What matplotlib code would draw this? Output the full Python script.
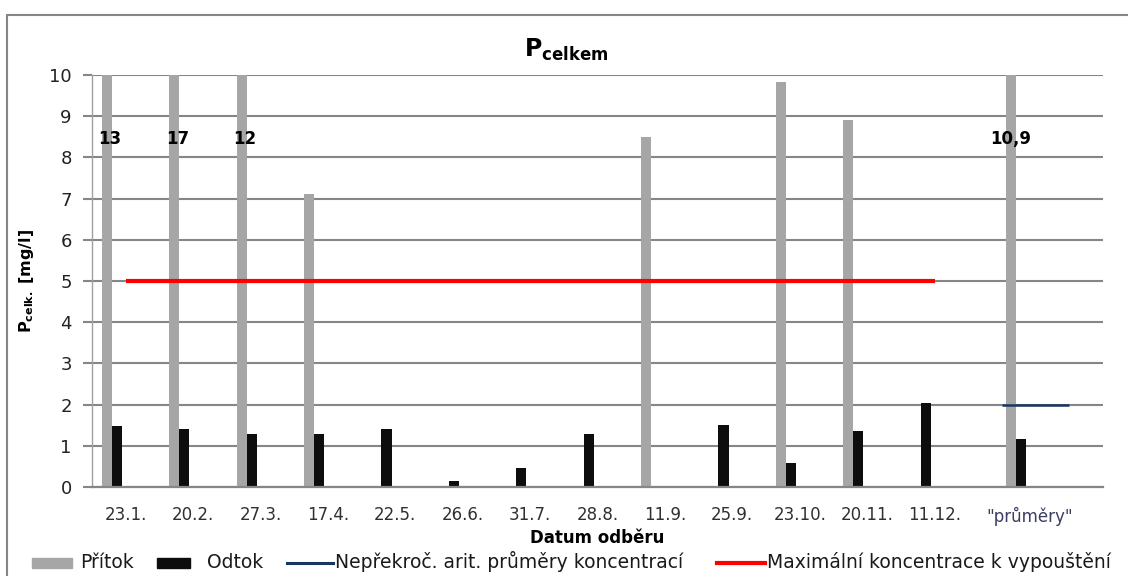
import matplotlib
matplotlib.use("Agg")
import numpy as np
import matplotlib.pyplot as plt
from matplotlib.patches import Rectangle
from matplotlib.lines import Line2D

plt.rcParams['font.family'] = ['DejaVu Sans']
plt.rcParams['mathtext.fontset'] = 'dejavusans'

# sampling dates + the summary column
dates = ['23.1.', '20.2.', '27.3.', '17.4.', '22.5.', '26.6.', '31.7.',
         '28.8.', '11.9.', '25.9.', '23.10.', '20.11.', '11.12.']
avg_label = '"průměry"'

# P total [mg/l]; nan = not sampled
pritok = [13, 17, 12, 7.11, np.nan, np.nan, np.nan, np.nan, 8.5, np.nan, 9.82, 8.9, np.nan]
odtok = [1.48, 1.41, 1.29, 1.28, 1.41, 0.15, 0.45, 1.28, np.nan, 1.5, 0.58, 1.35, 2.04]
pritok_avg = 10.9
odtok_avg = 1.17

limit_avg = 2.0      # nepřekročitelný průměr
limit_max = 5.0      # max. koncentrace

ymax = 10

W, H = 1128, 576
fig = plt.figure(figsize=(W / 100, H / 100), dpi=100)
ax = fig.add_axes([92 / W, 1 - 487 / H, (1103 - 92) / W, (487 - 75) / H])

gray = '#a6a6a6'
black = '#0d0d0d'
navy = '#17375e'
red = '#ff0000'
grid = '#868686'

n = len(dates)
x = np.arange(n)
x_avg = 13.41          # summary group sits after an empty slot
bw = 0.15
off_g, off_b = -0.28, -0.13

ax.bar(x + off_g, pritok, bw, color=gray, zorder=2)
ax.bar(x + off_b, odtok, bw, color=black, zorder=2)
ax.bar([x_avg + off_g], [pritok_avg], bw, color=gray, zorder=2)
ax.bar([x_avg + off_b], [odtok_avg], bw, color=black, zorder=2)

# limit lines
ax.plot([x[0], x[-1]], [limit_max, limit_max], color=red, lw=3, zorder=3,
        solid_capstyle='butt')
ax.plot([n, n + 1], [limit_avg, limit_avg], color=navy, lw=1.8, zorder=3,
        solid_capstyle='butt')

# values that run off the top of the axis
def fmt(v):
    return ('%g' % v).replace('.', ',')

for xi, v in zip(x, pritok):
    if v > ymax:
        ax.text(xi + off_g + 0.05, 8.45, fmt(v), ha='center', va='center',
                fontsize=12, fontweight='bold', zorder=4)
if pritok_avg > ymax:
    ax.text(x_avg + off_g, 8.45, fmt(pritok_avg), ha='center', va='center',
            fontsize=12, fontweight='bold', zorder=4)

ax.set_xlim(-0.5, 14.5)
ax.set_ylim(0, ymax)
ax.set_yticks(range(0, 11))
ax.yaxis.grid(True, color=grid, lw=1.5, zorder=0)
ax.tick_params(axis='y', length=6.5, width=1.5, color=grid, labelsize=13,
               pad=8, labelcolor='#222222')
ax.set_xticks(list(x) + [x_avg])
ax.set_xticklabels(dates + [avg_label])
ax.tick_params(axis='x', length=0, pad=14, labelsize=12, labelcolor='#303030')
ax.get_xticklabels()[-1].set_color('#3c3c64')
for s in ['top', 'right']:
    ax.spines[s].set_visible(False)
ax.spines['left'].set_color('#a0a0a0')
ax.spines['left'].set_linewidth(1)
ax.spines['bottom'].set_color(grid)
ax.spines['bottom'].set_linewidth(1.6)

fig.text(566 / W, 1 - 50 / H, r'$\mathbf{P}_{\mathbf{celkem}}$', ha='center',
         va='center', fontsize=17)
fig.text(27 / W, 1 - 281 / H, r'$\mathbf{P}_{\mathbf{celk.}}\ \mathbf{[mg/l]}$',
         rotation=90, ha='center', va='center', fontsize=11.5)
fig.text(597 / W, 1 - 538 / H, 'Datum odběru', ha='center', va='center',
         fontsize=12, fontweight='bold')

# legend row along the bottom edge (pixel positions)
ly = 1 - 563 / H
base = 1 - 568 / H
def px(v):
    return v / W

fig.add_artist(Rectangle((px(32), 1 - 568 / H), px(40), 10 / H,
                         color=gray, transform=fig.transFigure))
fig.add_artist(Rectangle((px(157), 1 - 568 / H), px(33), 10 / H,
                         color=black, transform=fig.transFigure))
fig.add_artist(Line2D([px(287), px(333)], [ly, ly], color=navy, lw=2.2,
                      transform=fig.transFigure))
fig.add_artist(Line2D([px(717), px(765)], [ly, ly], color=red, lw=3,
                      transform=fig.transFigure))
for xt, t in [(80, 'Přítok'), (207, 'Odtok'),
              (335, 'Nepřekroč. arit. průměry koncentrací'),
              (767, 'Maximální koncentrace k vypouštění')]:
    fig.text(px(xt), base, t, ha='left', va='baseline', fontsize=13.5,
             color='#1a1a1a')

# chart frame, runs past the right and bottom edges
fig.patches.append(Rectangle((7 / W, -0.2), 2, 1.2 - 15 / H,
                             transform=fig.transFigure, fill=False,
                             edgecolor=grid, lw=1.5))

fig.savefig('out.png', dpi=100)
